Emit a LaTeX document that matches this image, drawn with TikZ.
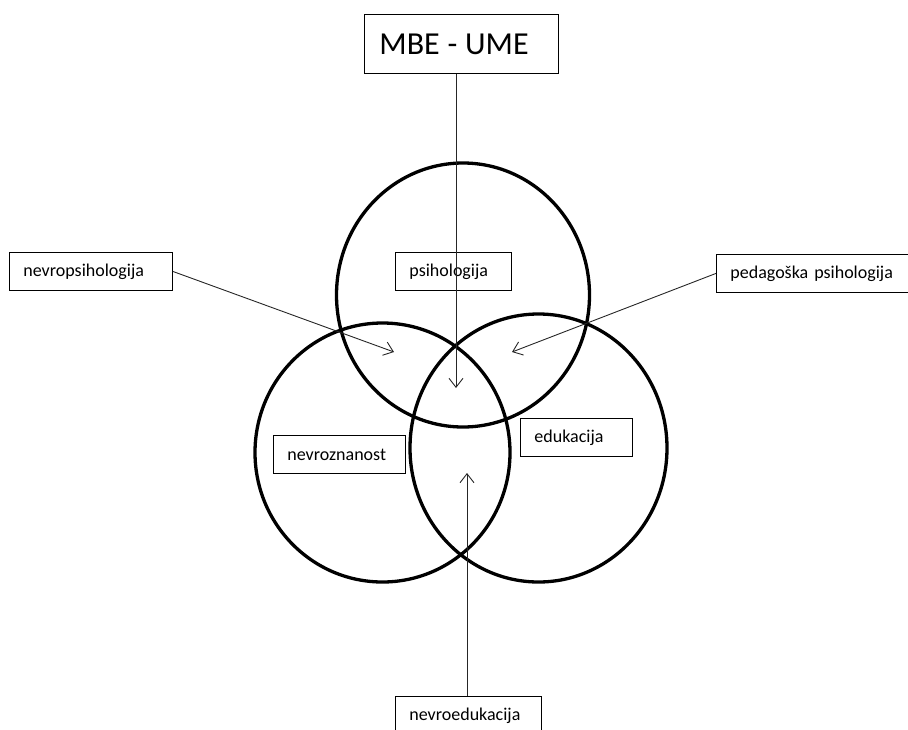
\documentclass[tikz,border=0pt]{standalone}
\usepackage{fontspec}
\setmainfont{Carlito}
\usetikzlibrary{arrows.meta}

\begin{document}
\begin{tikzpicture}[
x=1pt, y=-1pt,
ring/.style={
  draw,
  line width=3.3pt
  },
tag/.style={
  draw,
  line width=0.8pt,
  anchor=north west,
  inner xsep=14pt,
  minimum height=38pt,
  text width=#1,
  align=left,
  font=\fontsize{18}{20}\selectfont
  },
link/.style={
  draw=black!85,
  line width=0.9pt
  },
>={Straight Barb[length=9pt,width=14pt]}
]
\useasboundingbox (0,0) rectangle (908,729);
\clip (0,0) rectangle (908,729);

% the three fields
\draw[ring] (463,295) ellipse [x radius=126.5, y radius=132];
\draw[ring] (382.5,452.5) ellipse [x radius=127.5, y radius=129.5];
\draw[ring] (538.5,448) ellipse [x radius=128.5, y radius=134];

% labels
\node[tag=164pt, minimum height=59pt, inner xsep=15pt,
  font=\fontsize{32}{36}\selectfont] (mbe) at (364,14)
  {MBE\hspace{7.8pt}-\hspace{7.8pt}UME};
\node[tag=135pt] (neuropsy) at (9,252) {nevropsihologija};
\node[tag=88pt] (psy) at (395,252) {psihologija};
\node[tag=190pt] (pedpsy) at (716,254) {pedagoška psihologija};
\node[tag=104pt] (neuro) at (273,435) {nevroznanost};
\node[tag=84pt] (edu) at (520,418) {edukacija};
\node[tag=118pt] (neuroedu) at (395,696) {nevroedukacija};

% arrow tips
\coordinate (tip top) at (456,388);
\coordinate (tip left) at (394,352);
\coordinate (tip right) at (512,352);
\coordinate (tip bottom) at (467,473);

\draw[link,->] (mbe.south -| tip top) -- (tip top);
\draw[link,->] (neuropsy.east) -- (tip left);
\draw[link,->] (pedpsy.west) -- (tip right);
\draw[link,->] (neuroedu.north -| tip bottom) -- (tip bottom);
\end{tikzpicture}
\end{document}
